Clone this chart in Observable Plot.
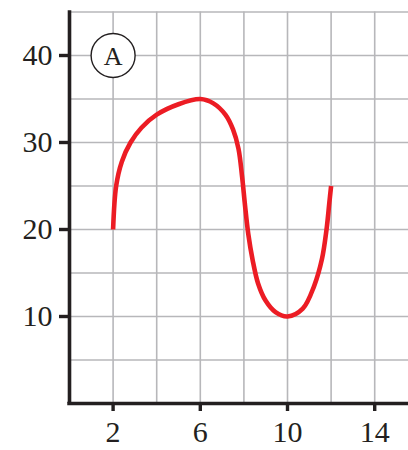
<!DOCTYPE html>
<html>
<head>
<meta charset="utf-8">
<script src="https://cdn.jsdelivr.net/npm/d3@7"></script>
<script src="https://cdn.jsdelivr.net/npm/@observablehq/plot@0.6"></script>
<style>
  html, body { margin: 0; padding: 0; background: #fff; }
  #chart svg { display: block; }
</style>
</head>
<body>
<div id="chart"></div>
<script>
// Curve points
const curveX = [2, 2.14, 2.4, 2.8, 3.3, 4, 5, 6, 6.6, 7.15, 7.5, 7.75, 7.92, 8.05, 8.2, 8.4, 8.65, 9, 9.45, 10, 10.7, 11.22, 11.58, 11.79, 11.92, 12];
const curveY = [20, 25, 27.8, 30, 31.7, 33.2, 34.4, 35, 34.5, 33.2, 31.5, 29.3, 26, 22.8, 19.5, 16.5, 13.8, 11.8, 10.5, 10, 10.9, 13.5, 16.6, 20, 23.1, 25];

// Axes / grid
const xTicks = [2, 6, 10, 14];
const yTicks = [10, 20, 30, 40];
const xGrid = [2, 4, 6, 8, 10, 12, 14];
const yGrid = [5, 10, 15, 20, 25, 30, 35, 40, 45];
const xDomain = [0, 15.55];
const yDomain = [0, 45];

// Panel label
const labelText = ["A"];
const labelX = [2];
const labelY = [40];

const curve = curveX.map((x, i) => ({x, y: curveY[i]}));
const label = labelText.map((t, i) => ({t, x: labelX[i], y: labelY[i]}));

const ink = "#231f20";
const gridColor = "#b7b7ba";
const red = "#ec1c24";
const font = "'Liberation Serif', 'DejaVu Serif', serif";

const chart = Plot.plot({
  width: 408,
  height: 450,
  marginLeft: 69,
  marginRight: 0,
  marginTop: 11.5,
  marginBottom: 47,
  style: {fontFamily: font, background: "#fff", color: ink},
  x: {domain: xDomain, label: null},
  y: {domain: yDomain, label: null},
  marks: [
    Plot.ruleX(xGrid, {stroke: gridColor, strokeWidth: 1.6}),
    Plot.ruleY(yGrid, {stroke: gridColor, strokeWidth: 1.6}),
    Plot.line(curve, {x: "x", y: "y", curve: "catmull-rom", stroke: red, strokeWidth: 4.6, strokeLinecap: "butt"}),
    Plot.ruleX([0], {stroke: ink, strokeWidth: 3.6, y1: 0, y2: 45.15}),
    Plot.ruleY([0], {stroke: ink, strokeWidth: 3.6, x1: -0.08, x2: 15.55}),
    Plot.axisX({ticks: xTicks, tickSize: 8, tickPadding: 9, strokeWidth: 3.4, stroke: ink, fontSize: 30, fill: ink, label: null, tickFormat: d => String(d)}),
    Plot.axisY({ticks: yTicks, tickSize: 10, tickPadding: 7, strokeWidth: 3.4, stroke: ink, fontSize: 30, fill: ink, label: null, tickFormat: d => String(d)}),
    Plot.dot(label, {x: "x", y: "y", r: 22, fill: "#fff", stroke: ink, strokeWidth: 1.4}),
    Plot.text(label, {x: "x", y: "y", text: "t", fontSize: 26, fill: ink, dy: 1})
  ]
});
document.getElementById("chart").appendChild(chart);
</script>
</body>
</html>
